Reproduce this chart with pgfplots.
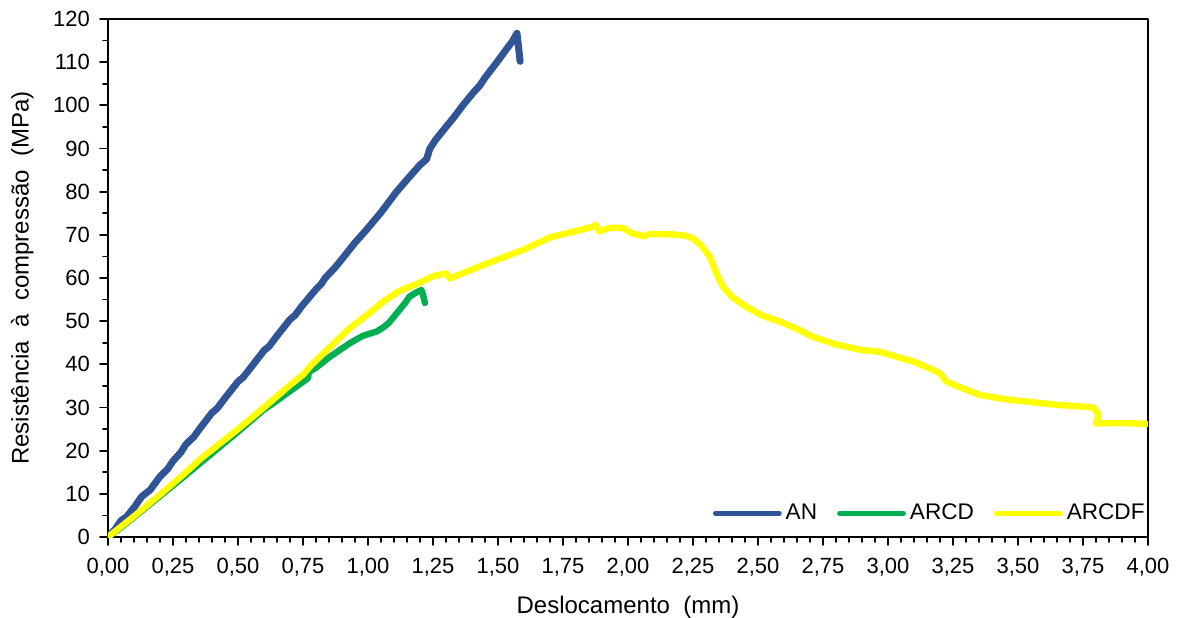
\documentclass[border=0pt]{standalone}
\usepackage{fontspec}
\setmainfont{Liberation Sans}
\usepackage{pgfplots}
\pgfplotsset{compat=1.18}
\usetikzlibrary{calc}
\definecolor{anblue}{RGB}{47,85,151}
\definecolor{arcdgreen}{RGB}{0,176,80}
\definecolor{arcdfyellow}{RGB}{255,255,0}

\begin{document}
\begin{tikzpicture}
\begin{axis}[
  scale only axis,
  width=520pt, height=259pt,
  xmin=0, xmax=4, ymin=0, ymax=120,
  xtick={0,0.25,...,4.01}, minor x tick num=4,
  ytick={0,10,...,120}, minor y tick num=1,
  tick pos=left, tick align=outside,
  major tick length=4pt, minor tick length=2.5pt,
  every tick/.style={black, line width=0.9pt},
  axis line style={black, line width=0.9pt},
  /pgf/number format/assume math mode=true,
  /pgf/number format/use comma,
  xticklabel style={/pgf/number format/.cd, fixed, fixed zerofill, precision=2, /tikz/.cd, yshift=-3pt},
  yticklabel style={/pgf/number format/.cd, fixed, precision=0, /tikz/.cd, xshift=-1.5pt},
  tick label style={font=\fontsize{11}{13}\selectfont},
  label style={font=\fontsize{12}{14}\selectfont},
  xlabel={Deslocamento\ \ (mm)},
  ylabel={Resistência\ \ à\ \ compressão\ \ (MPa)},
  xlabel style={yshift=-3pt},
  ylabel style={yshift=3pt},
  legend columns=3,
  legend style={at={(rel axis cs:1,0)}, anchor=south east, draw=none, fill=none,
    font=\fontsize{11.3}{13}\selectfont, yshift=3pt, xshift=3.5pt,
    /tikz/every even column/.append style={column sep=8pt}},
  legend image code/.code={\draw[line width=2.4pt, line cap=round] (0pt,0pt) -- (32pt,0pt);},
  line join=round, line cap=round,
]
\addplot[anblue, line width=3.5pt] coordinates {
  (0,0) (0.03,2.0) (0.05,3.8) (0.07,4.6) (0.1,6.8) (0.13,9.4) (0.162,10.9) (0.2,14.0)
  (0.23,15.8) (0.25,17.6) (0.28,19.6) (0.3,21.5) (0.33,23.2) (0.354,25.2) (0.4,28.8)
  (0.42,29.8) (0.45,32.2) (0.5,36.0) (0.52,37.0) (0.546,39.0) (0.6,43.2) (0.62,44.2)
  (0.65,46.6) (0.7,50.4) (0.72,51.4) (0.743,53.3) (0.8,57.4) (0.82,58.6)
  (0.835,60.0) (0.87,62.2) (0.9,64.4) (0.95,68.2) (0.977,70.0) (1.0,71.6) (1.05,75.2)
  (1.08,77.6) (1.11,80.0) (1.15,82.8) (1.2,86.2) (1.225,87.5) (1.238,90.0) (1.26,92.0)
  (1.3,95.0) (1.33,97.2) (1.365,100.0) (1.4,102.6) (1.43,104.6) (1.45,106.4) (1.496,110.0)
  (1.53,112.8) (1.555,114.8) (1.573,116.7) (1.578,114.0) (1.585,110.2)
};
\addlegendentry{AN}
\addplot[arcdgreen, line width=3.2pt] coordinates {
  (0,0) (0.05,2.2) (0.1,4.6) (0.2,9.5) (0.3,14.4) (0.4,19.4) (0.5,24.4)
  (0.597,29.4) (0.65,31.6) (0.7,33.8) (0.765,36.6) (0.77,37.0) (0.772,38.2)
  (0.8,39.2) (0.85,41.6) (0.93,44.9) (0.98,46.6) (1.033,47.6) (1.06,48.6)
  (1.08,49.6) (1.11,51.8) (1.14,54.0) (1.16,55.7) (1.19,56.8) (1.206,57.2)
  (1.212,56.0) (1.219,54.2)
};
\addlegendentry{ARCD}
\addplot[arcdfyellow, line width=3.2pt] coordinates {
  (0,0) (0.05,2.4) (0.1,4.8) (0.2,9.8) (0.3,15.0) (0.354,18.0) (0.4,20.2)
  (0.5,25.0) (0.6,30.0) (0.7,35.2) (0.75,37.6) (0.785,40.0) (0.85,43.8)
  (0.93,48.4) (1.0,51.6) (1.06,54.6) (1.12,57.0) (1.187,58.6) (1.25,60.4)
  (1.30,61.1) (1.315,59.9) (1.36,61.0) (1.443,63.0) (1.508,64.5) (1.6,66.6)
  (1.70,69.4) (1.78,70.6) (1.85,71.6) (1.876,72.3) (1.89,70.8) (1.93,71.6)
  (1.98,71.6) (2.02,70.2) (2.046,70.0) (2.06,69.6) (2.08,70.2) (2.17,70.1)
  (2.22,69.8) (2.25,69.2) (2.28,67.6) (2.315,64.9) (2.34,61.0) (2.365,58.0)
  (2.40,55.6) (2.456,53.3) (2.52,51.2) (2.585,49.9) (2.65,48.2) (2.71,46.4)
  (2.80,44.6) (2.90,43.3) (2.97,42.9) (3.03,41.8) (3.10,40.6) (3.17,38.8)
  (3.20,37.9) (3.225,36.0) (3.28,34.6) (3.354,32.9) (3.45,31.9) (3.546,31.3)
  (3.65,30.6) (3.75,30.2) (3.79,30.0) (3.81,28.4) (3.80,26.3) (3.90,26.4)
  (3.995,26.2)
};
\addlegendentry{ARCDF}
\end{axis}
\pgfresetboundingbox
\path[use as bounding box] ($(current axis.south west)+(-54pt,-40pt)$) rectangle ($(current axis.north east)+(18pt,9.5pt)$);
\end{tikzpicture}
\end{document}
